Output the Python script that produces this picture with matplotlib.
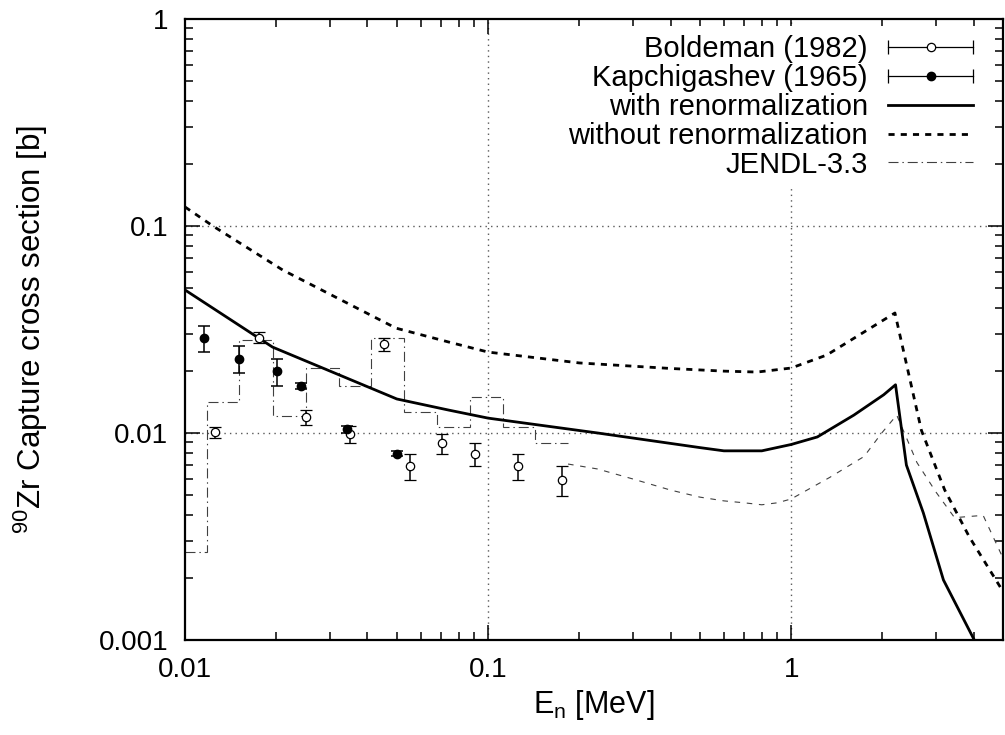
import numpy as np
import matplotlib
matplotlib.use('Agg')
import matplotlib.pyplot as plt
from matplotlib.lines import Line2D
from matplotlib.legend_handler import HandlerLine2D, HandlerTuple
from matplotlib.ticker import FixedLocator, FuncFormatter, LogLocator, NullFormatter

plt.rcParams['font.family'] = ['Liberation Sans', 'DejaVu Sans']
plt.rcParams['mathtext.fontset'] = 'custom'
plt.rcParams['mathtext.rm'] = 'Liberation Sans'
plt.rcParams['mathtext.default'] = 'regular'

# ----------------------------------------------------------------
# DATA
# Boldeman (1982), open circles
bold_e = [0.01258, 0.0175, 0.0251, 0.0351, 0.0452, 0.0552, 0.0702, 0.0908, 0.1253, 0.1756]
bold_xs = [0.01015, 0.0289, 0.0119, 0.00989, 0.0269, 0.00695, 0.00892, 0.00792, 0.00695, 0.00593]
bold_lo = [0.00942, 0.0271, 0.0109, 0.00892, 0.0249, 0.00593, 0.00792, 0.00693, 0.00593, 0.00496]
bold_hi = [0.01073, 0.0306, 0.0129, 0.0108, 0.0287, 0.00789, 0.00989, 0.00892, 0.00792, 0.00693]

# Kapchigashev (1965), filled circles
kap_e = [0.01154, 0.01507, 0.02005, 0.0242, 0.0342, 0.0502]
kap_xs = [0.0289, 0.0229, 0.0199, 0.0169, 0.0104, 0.00792]
kap_lo = [0.0246, 0.0194, 0.0169, 0.0163, 0.0100, 0.00770]
kap_hi = [0.0330, 0.0264, 0.0228, 0.0175, 0.0108, 0.00815]

# calculation with renormalization
ren_e = [0.01, 0.01945, 0.05, 0.0742, 0.1, 0.23, 0.5, 0.6, 0.8, 1.0, 1.22, 1.61,
         2.02, 2.21, 2.40, 2.73, 3.18, 4.02, 4.5]
ren_xs = [0.0491, 0.026, 0.0146, 0.0129, 0.0118, 0.0100, 0.0085, 0.0082, 0.0082, 0.0088,
          0.00957, 0.0122, 0.0153, 0.0171, 0.0070, 0.00411, 0.00195, 0.0010, 0.0006]

# calculation without renormalization
noren_e = [0.01, 0.01236, 0.021, 0.0497, 0.0742, 0.1, 0.2, 0.4, 0.6, 0.773, 1.0, 1.31,
           2.2, 2.69, 3.21, 3.87, 4.9, 5.0]
noren_xs = [0.1236, 0.1, 0.0613, 0.0321, 0.0275, 0.0246, 0.0218, 0.0205, 0.0199, 0.0197,
            0.0206, 0.0238, 0.038, 0.0103, 0.00531, 0.00315, 0.0018, 0.0017]

# JENDL-3.3: group-wise histogram below 0.18 MeV
jendl_step_edges = [0.01, 0.01178, 0.01504, 0.01945, 0.0250, 0.0321, 0.0411, 0.0528,
                    0.0678, 0.0869, 0.1116, 0.1433, 0.1836]
jendl_step_xs = [0.00266, 0.01413, 0.0281, 0.0121, 0.0206, 0.0169, 0.0288, 0.0126,
                 0.0107, 0.0150, 0.0107, 0.00895]
# JENDL-3.3: pointwise above
jendl_e = [0.1836, 0.23, 0.3, 0.4, 0.5, 0.6, 0.7, 0.8, 0.9, 1.0, 1.34, 1.74, 1.99, 2.23,
           2.4, 2.6, 3.0, 3.46, 4.30, 4.93, 5.0]
jendl_xs = [0.00708, 0.0067, 0.0060, 0.0053, 0.0049, 0.0047, 0.0046, 0.0045, 0.0046, 0.0048,
            0.0061, 0.0077, 0.0100, 0.0122, 0.0095, 0.0072, 0.0052, 0.0039, 0.0040,
            0.0026, 0.0025]

# ----------------------------------------------------------------
fig = plt.figure(figsize=(10.05, 7.35), dpi=100)
ax = fig.add_axes([185 / 1005, 1 - 640 / 735, 818 / 1005, 621 / 735])

ax.set_xscale('log')
ax.set_yscale('log')
ax.set_xlim(0.01, 5)
ax.set_ylim(0.001, 1)

# grid (major only)
for xv in [0.1, 1]:
    ax.axvline(xv, color='0.35', lw=1.0, ls=(0, (1, 3)), zorder=0)
for yv in [0.01, 0.1]:
    ax.axhline(yv, color='0.35', lw=1.0, ls=(0, (1, 3)), zorder=0)

# JENDL-3.3
ax.stairs(jendl_step_xs, jendl_step_edges, baseline=None, color='0.25', lw=0.8,
          linestyle=(0, (9, 3.5, 1.3, 3.5)), zorder=2)
jendl_line, = ax.plot(jendl_e, jendl_xs, color='0.25', lw=0.8, dashes=(5, 6), zorder=2)

# calculations
ren_line, = ax.plot(ren_e, ren_xs, color='black', lw=2.0, zorder=3)
noren_line, = ax.plot(noren_e, noren_xs, color='black', lw=2.0, dashes=(2.2, 2.2), zorder=3)

# experiments
b_e = np.array(bold_e)
b_y = np.array(bold_xs)
ax.errorbar(b_e, b_y, yerr=[b_y - np.array(bold_lo), np.array(bold_hi) - b_y],
            fmt='o', ms=6, mfc='white', mec='black', mew=0.9, ecolor='black',
            elinewidth=1.1, capsize=4, capthick=1.1, zorder=4)
k_e = np.array(kap_e)
k_y = np.array(kap_xs)
ax.errorbar(k_e, k_y, yerr=[k_y - np.array(kap_lo), np.array(kap_hi) - k_y],
            fmt='o', ms=6, mfc='black', mec='black', ecolor='black',
            elinewidth=1.1, capsize=4, capthick=1.1, zorder=4)

# ticks
ax.xaxis.set_major_locator(FixedLocator([0.01, 0.1, 1]))
ax.yaxis.set_major_locator(FixedLocator([0.001, 0.01, 0.1, 1]))
ax.xaxis.set_minor_locator(LogLocator(base=10, subs=np.arange(2, 10), numticks=20))
ax.yaxis.set_minor_locator(LogLocator(base=10, subs=np.arange(2, 10), numticks=20))
fmt = FuncFormatter(lambda v, p: '%g' % v)
ax.xaxis.set_major_formatter(fmt)
ax.yaxis.set_major_formatter(fmt)
ax.xaxis.set_minor_formatter(NullFormatter())
ax.yaxis.set_minor_formatter(NullFormatter())
ax.tick_params(which='both', direction='in', top=True, right=True, labelsize=20,
               width=1.1, color='black')
ax.tick_params(which='major', length=11, pad=12)
ax.tick_params(which='minor', length=5.5)
for sp in ax.spines.values():
    sp.set_linewidth(1.6)

ax.set_xlabel('E$_n$ [MeV]', fontsize=22, labelpad=4)
ax.set_ylabel('$^{90}$Zr Capture cross section [b]', fontsize=22.5)
ax.yaxis.set_label_coords(-0.165, 0.5)

# LEGEND
bar_b = Line2D([], [], color='black', lw=0.9, marker='|', ms=10, mew=0.9)
dot_b = Line2D([], [], ls='none', marker='o', ms=6, mfc='white', mec='black', mew=0.9)
bar_k = Line2D([], [], color='black', lw=0.9, marker='|', ms=10, mew=0.9)
dot_k = Line2D([], [], ls='none', marker='o', ms=6, mfc='black', mec='black')
jendl_h = Line2D([], [], color='0.25', lw=0.8, linestyle=(0, (9, 3.5, 1.3, 3.5)))
hmap = {bar_b: HandlerLine2D(numpoints=2, marker_pad=0),
        bar_k: HandlerLine2D(numpoints=2, marker_pad=0),
        dot_b: HandlerLine2D(numpoints=1),
        dot_k: HandlerLine2D(numpoints=1),
        tuple: HandlerTuple(ndivide=1, pad=0)}
leg = ax.legend([(bar_b, dot_b), (bar_k, dot_k), ren_line, noren_line, jendl_h],
                ['Boldeman (1982)', 'Kapchigashev (1965)', 'with renormalization',
                 'without renormalization', 'JENDL-3.3'],
                handler_map=hmap, loc='upper right', bbox_to_anchor=(0.974, 0.988),
                markerfirst=False, fontsize=21, handlelength=2.9, handletextpad=0.7,
                labelspacing=0.03, borderpad=0.3, borderaxespad=0, frameon=True,
                fancybox=False, framealpha=1, facecolor='white', edgecolor='none')
for t in leg.get_texts():
    t.set_ha('right')
leg.set_zorder(5)

fig.savefig('out.png', dpi=100)
